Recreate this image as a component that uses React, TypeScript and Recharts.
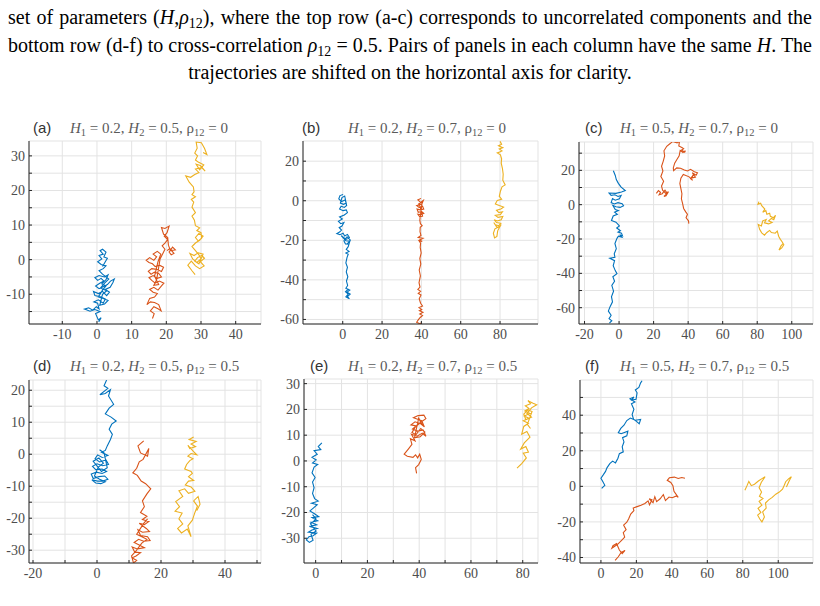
import React from 'react';
import { CartesianGrid, Line, LineChart, XAxis, YAxis } from 'recharts';

// trajectory samples, [x, y]
const A_BLUE = [[0.5,-18],[1.2,-16.8],[0.4,-17.4],[-0.4,-15.6],[0.9,-15],[-0.6,-14.4],[-2,-14.9],[-3.6,-14.3],[-2.4,-13.9],[-1.2,-14.6],[-0.2,-13.6],[0.6,-14.2],[0.2,-12.6],[-0.9,-12.2],[0.4,-11.6],[1.8,-12.6],[2.4,-11.4],[1.2,-10.8],[-0.6,-10.4],[-1,-9.2],[0.4,-9.8],[1.6,-9.2],[2.8,-10.4],[3.6,-9.4],[2.4,-8.6],[3.8,-8],[4.6,-6.6],[5,-5.6],[3.9,-6.2],[3,-7.2],[1.8,-7.8],[0.6,-8.4],[-0.4,-7.6],[0.8,-6.8],[2,-6.2],[1.2,-5.4],[0.2,-6],[-0.6,-5.2],[0.6,-4.6],[2.2,-5],[3.2,-4.4],[2.6,-5.8],[1.4,-7],[2.6,-7.6],[1.6,-8.8],[0.4,-10.8],[1.8,-11.2],[3.2,-11.8],[2.2,-12.8],[0.8,-13.2],[1.6,-10],[2.8,-9],[1,-8.2],[2.2,-6.8],[3.4,-5.6],[1.6,-4.2],[0.6,-3.2],[1.8,-2.6],[2.6,-1.8],[1.2,-1.4],[0.2,-0.6],[1.4,0.2],[0.6,1.2],[1.8,1.6],[0.9,2.6],[1.6,3],[2.6,2.2],[2,0.8],[3,0.4],[2.4,-0.6],[1.6,-2]];
const A_ORANGE = [[16,-17],[16.5,-15.6],[15.4,-14.8],[16.4,-13.6],[17.6,-14.2],[18.5,-14.8],[17.8,-13],[16.6,-12.4],[15.4,-12.2],[14.4,-13],[15.2,-11.2],[16.6,-10.8],[17.4,-9.8],[16.2,-9.4],[15.2,-8.6],[16.4,-8],[17.6,-8.8],[18.6,-7.6],[19.3,-6.8],[18,-6.2],[16.8,-6.8],[15.8,-6],[15,-5.2],[16.2,-4.6],[17.4,-5.4],[18.6,-5],[17.8,-4],[16.6,-3.6],[15.6,-4.2],[14.8,-3.4],[15.8,-2.6],[17.2,-2.8],[18.6,-3.4],[19.2,-2.2],[18,-1.6],[16.8,-2],[16,-1.2],[15,-0.8],[14.2,-0.2],[15.2,0.6],[16.4,-0.2],[17.2,0.8],[16.2,1.6],[17.4,2.4],[18.4,1.6],[17.6,-0.6],[16.6,-4.8],[17.8,-7.2],[16.4,-7.4],[17.2,-5.8],[18.2,0.2],[19,1.8],[19.6,3],[18.8,4],[19.6,4.8],[20.4,5.8],[19.4,6.8],[20.2,7.8],[20.8,9.7],[19.6,9],[18.6,9.3],[19.2,7.4],[20.4,6.4],[20.6,4.2],[21.2,2.6],[22.6,2.8],[21.8,3.6],[20.8,2.2],[21.4,1.4],[22.2,1.8],[21,3.2],[20.2,2.6]];
const A_YELLOW = [[28.3,-4.3],[27.4,-3.2],[26.2,-1.6],[27.2,-0.4],[28.4,-1.8],[29.6,-2.6],[30.9,-1.8],[29.8,-0.6],[31,0.4],[30.2,1.2],[29,0.6],[28.2,-0.4],[29.4,-1.2],[30.6,1.6],[29.2,2],[28,1.2],[26.8,1.8],[27.6,0.2],[28.8,-0.8],[30,0.2],[29.4,1.4],[28.4,2.6],[27.4,3.8],[28.4,4.8],[29.6,5.6],[30.6,6.8],[29.4,7.6],[28.4,6.4],[29.2,5.4],[30.2,6.2],[30,7.8],[28.8,8.4],[29.6,9.2],[28.4,9.8],[28.1,11.4],[27.4,12.6],[28.4,13.6],[27.4,15.2],[27.9,16.6],[27.2,17.4],[28.4,18.2],[27.4,18.8],[28,19.6],[27.8,21],[26.6,22.4],[25.6,24.2],[27,23.8],[28.2,24.6],[29.4,25.2],[28.4,26.2],[30.2,26.6],[31.2,25.6],[29.8,27.2],[28.6,27.6],[29.6,26],[30.8,27.4],[29.2,28.2],[28.4,28.8],[29,30],[28.2,30.8],[28.9,32.2],[28.6,34],[30.1,33.8],[31,32.2],[31.7,30.4],[30.6,31]];

const B_BLUE = [[0.2,3.2],[-1.4,2.6],[-2,1],[-0.6,-0.4],[1.2,0.4],[1.8,-1.2],[0.4,-1.8],[-1.2,-1.2],[-0.4,1.6],[1,2.4],[2,-2.4],[0.8,-3.4],[-0.8,-2.8],[-1.6,-4.2],[0.2,-5],[1.8,-4.6],[2.4,-6],[0.8,-7.2],[-1.6,-8.2],[-0.2,-9.2],[-2.2,-10.4],[-1,-11.6],[0.6,-11],[-0.4,-12.8],[-1.8,-13.6],[-0.6,-14.8],[-1.6,-15.8],[-3,-16.6],[-1.4,-17.2],[0.2,-16.4],[1,-17.8],[2.4,-17],[3.4,-18.6],[2,-19.4],[0.8,-18.8],[-0.8,-17.6],[1.6,-20.2],[3.6,-20.4],[2.4,-21.6],[3.4,-22],[1.4,-21.8],[0.6,-20.2],[2.2,-18.2],[3.8,-19.8],[2.8,-23.2],[1.8,-24.6],[3.2,-25.6],[1.6,-26.4],[2.8,-27],[2.2,-28.6],[1.6,-31.4],[2.4,-33.6],[1.8,-36],[2.6,-38.4],[1.9,-40.6],[2.5,-42.8],[1.6,-44.2],[3.6,-45.2],[2.2,-46.2],[3.8,-47.2],[2.4,-48.4],[3.4,-49.6],[1.6,-48.6],[2.8,-47.2],[1.4,-46],[3,-44.6]];
const B_ORANGE = [[39.8,1.2],[38.2,0.4],[39.6,-0.8],[41,0.2],[40.2,-1.8],[37.6,-2.4],[38.8,-3.4],[40.6,-2.8],[41.2,-4.2],[39.4,-4.6],[37.8,-4.2],[38.4,-5.8],[40,-5.4],[41.2,-6.4],[39.6,-7],[38.2,-6.8],[39.2,-8.2],[40.6,-7.8],[39.4,-3.2],[38.6,-1.6],[40.4,-0.6],[39.2,-9.8],[39.5,-11.6],[40.4,-12.6],[39.4,-13.4],[39.3,-15.6],[39.8,-17.6],[38.4,-18.6],[40.8,-19],[39.2,-19.8],[40.4,-20.6],[38.8,-20.2],[39.6,-21.4],[39.4,-23.6],[39.9,-26.4],[39.2,-29.2],[39.7,-32],[38.9,-35],[39.5,-38],[38.8,-41.4],[39.3,-43.6],[38.2,-44.8],[39.6,-45.8],[38.4,-46.8],[39.8,-47.6],[38.9,-49.6],[39.6,-51.8],[40.6,-53.2],[38.8,-54],[40.2,-55],[39,-55.6],[40.8,-56.4],[39.2,-57.2],[40.6,-58],[39.4,-59],[38.4,-60.2],[37.6,-61.4],[39.2,-62.2],[40.2,-61.6]];
const B_YELLOW = [[80,30],[80.8,28.6],[79.2,27.8],[81.4,26.8],[79.6,26.2],[81,25.2],[79.8,24.6],[78.6,24.2],[80.2,23.2],[80.8,21.2],[80.6,19],[81.2,16.4],[81.6,13.4],[81.4,10.4],[82.6,8],[81,7],[80.2,4.8],[79.6,2.2],[80.8,0.8],[78.6,0.2],[77.6,-1.6],[79.6,-2.4],[81.8,-3.2],[80.4,-4.2],[78.2,-4.8],[79.4,-6],[81.2,-5.6],[80.2,-7],[77.6,-7.4],[79,-8.4],[81.4,-8],[80.6,-9.6],[78.6,-10.2],[77,-9.6],[78.2,-11],[80.4,-11.4],[79.4,-12.6],[77.6,-12.2],[76.8,-11],[78.4,-13.4],[79.8,-13],[77.4,-14.2],[76.6,-16.4],[77.2,-18.8],[78.4,-18],[78.8,-15.2],[79.6,-13.6],[80.6,-12]];

const C_BLUE = [[-3.3,19.8],[-2.2,17],[-1.6,14.6],[-0.4,12.4],[1.2,10.2],[3.6,8.2],[1.4,7.4],[-1.8,6.6],[-5.8,6.8],[-4.6,5.4],[-2.4,5.8],[-0.6,4.8],[1.2,5.4],[0.2,3.4],[-2.2,2.6],[-3.8,3.6],[-4.6,1.2],[-2.8,0.4],[-0.6,1.2],[1.8,0.6],[2.6,-0.6],[0.6,-1.6],[-1.8,-1.2],[-3.6,-0.4],[-2.2,-2.8],[-0.4,-3.4],[-2.6,-4.4],[-1,-5.6],[-3.4,-6.6],[-4.4,-9.2],[-1.8,-10.2],[0.2,-12.4],[-1.4,-13.6],[0.8,-15.2],[-0.6,-16],[1.4,-16.6],[2,-18.2],[0.4,-17.6],[1.6,-19],[-0.4,-18.4],[-1.2,-19.6],[-2.4,-22.6],[-1.6,-25.6],[-2.8,-28.6],[-2.4,-30.6],[-5.4,-31.2],[-2.6,-32.6],[-3.4,-35.6],[-2.2,-38.4],[-1.2,-40.2],[-3.6,-42],[-2.6,-44.6],[-4.2,-47],[-3.2,-50.4],[-4.4,-53.6],[-3.8,-56.6],[-5.2,-59.4],[-6.2,-62],[-4.6,-64.4],[-5.8,-66.4],[-4.2,-67.6],[-5.6,-69]];
const C_ORANGE = [[21.6,6.6],[22.8,8.2],[24,7.2],[23.2,5.8],[25,6.4],[26.6,8.4],[27.6,7],[28.6,7.6],[27.2,5.2],[26,4.8],[27.4,6.2],[25.2,8.4],[24.6,10.8],[25.8,13.6],[24.2,16.4],[25.4,19.6],[24.6,22.4],[25.6,25.4],[26.4,28.4],[26,31.4],[27.6,34],[29.6,35.6],[31,36.8],[33.6,36],[35,36.9],[34.6,34.2],[36.6,33.2],[37.4,32.6],[36.2,31.8],[38,30.6],[38.4,31.4],[37,30.4],[35.4,31.6],[34.8,28.4],[33.4,26.2],[32.2,24.2],[31.4,21.4],[31.6,19.8],[33.4,21.4],[35.6,21.2],[37.8,20.2],[39.6,19.6],[41.4,20.6],[43.6,19.2],[45.4,18.6],[44.6,17.2],[42.4,18.6],[44.2,16],[42.2,15.6],[43,17.4],[41.4,15.2],[42.6,14.2],[40.6,16.2],[37.2,17.6],[35.8,15.4],[35.2,12.4],[35.8,9.4],[36.4,6.4],[36.1,3.4],[36.8,0.6],[37.4,-2.2],[38.6,-4.2],[39.6,-5.6],[38.8,-7.6],[40.2,-9.4],[40.4,-11]];
const C_YELLOW = [[81,1.8],[80.4,0.2],[82,0.8],[82.6,-0.6],[84.4,-2.6],[83.2,-4.4],[85,-3.4],[85.6,-5.6],[87.2,-5],[87.6,-6.8],[89.4,-7.6],[90.6,-6.2],[89.6,-8.8],[88.2,-8],[86.6,-9.4],[88.6,-10.4],[86.6,-11.2],[84.2,-10.6],[85.2,-8.6],[83.2,-9.4],[82.4,-12.4],[80.6,-11.6],[81.4,-14.4],[82.6,-16.4],[84.2,-17.8],[85.6,-16.2],[87.2,-15],[88.2,-16.2],[90.4,-16.6],[91.6,-15.4],[92.4,-18.4],[93.4,-20.2],[94.4,-21.6],[95.4,-23.4],[94.2,-25.2],[92.6,-26.4],[93.8,-24],[95.2,-22.4]];

const D_BLUE = [[3,23.2],[2.2,21.4],[3.4,20.6],[0.9,18.6],[2.6,19],[4.2,20.2],[3.6,18.2],[5.2,15.6],[3.8,14.4],[2.6,12.6],[4.4,11.6],[6,10.4],[4.6,9.4],[3.8,7.8],[4.8,6.2],[4.2,4.6],[3.2,2.6],[2.6,1.2],[1.4,0.6],[3.4,-0.4],[1.6,-1],[0.2,-0.2],[-0.6,-1.4],[0.8,-2.4],[2.8,-1.8],[3.6,-3.2],[1.8,-3.6],[0,-3],[-1.4,-3.8],[-0.4,-4.8],[1.6,-4.6],[3,-5.4],[1.6,-6],[-0.2,-5.6],[-1.8,-6.2],[-1.2,-7.6],[0.6,-7],[2.4,-6.8],[3.4,-7.8],[1.8,-8.4],[0.2,-8.4],[-1.6,-8],[-0.4,-9],[1.2,-9.2],[2.6,-8.6],[0.8,-7.8],[-0.8,-6.8],[0.4,-4],[2,-2.8],[0.6,-1.2],[-1.2,-2.2],[-0.2,-3.4],[1.4,-5.4],[3.2,-4.2],[2.2,0.4],[0.8,1.4]];
const D_ORANGE = [[14.6,4.2],[12.8,2.6],[13.6,0.4],[15.8,-0.6],[16.2,1.8],[14.4,-1.6],[13.2,-2.4],[12.4,-4.4],[11.2,-5.8],[12.6,-6.6],[13.8,-8.4],[15.2,-9.2],[16.8,-10.8],[15.6,-12.4],[14.2,-14.6],[14.8,-16.4],[13.6,-18.2],[15.6,-19.4],[14.2,-20.4],[16.2,-21],[14.8,-22],[13.2,-21.6],[15.4,-23.2],[16.4,-24.2],[14.2,-24.4],[12.8,-23.6],[13.6,-25.4],[15.8,-25.8],[16.6,-27],[14.6,-27.2],[13,-26.6],[11.6,-27.6],[13.2,-28.4],[14.8,-29.2],[12.6,-29.6],[11,-29],[11.8,-30.6],[13.6,-30.8],[12.2,-31.8],[11,-32.4],[12.4,-33.2],[11.4,-34],[10.8,-31.8],[12.2,-30.2],[14,-27.8],[15.6,-26.6],[14,-25.8],[12.4,-25],[14.6,-21.6],[15.8,-20.2]];
const D_YELLOW = [[30.2,5.4],[28.8,4.6],[31,4],[29.4,3.2],[30.8,2.4],[29,1.8],[28.4,2.8],[30.2,0.8],[31.2,-0.2],[29.4,0.2],[28.4,-0.6],[30,-1.4],[29,-2],[28,-3.2],[27.4,-4.6],[29.4,-5.4],[29.8,-6],[28.6,-7],[30.2,-8.2],[28.6,-8.4],[27.6,-9.6],[29.4,-10.2],[30.6,-11.6],[28.6,-12.2],[27.4,-10.8],[25.6,-11.4],[26.8,-13.2],[24.6,-14.8],[25.8,-16.4],[24.4,-17.8],[26.6,-18.4],[25.6,-20.2],[26.8,-21.8],[25.2,-23.2],[26.4,-24.6],[28.2,-23.4],[29.4,-25.8],[28.4,-22.4],[29.8,-20.6],[30.6,-18.2],[31.4,-16.2],[30.2,-14.6],[31.6,-13.2],[32.2,-15.6],[31.2,-17.6]];

const E_BLUE = [[2.4,7],[1,5.6],[2,4.4],[-0.6,4],[0.6,2.6],[-1.4,1.4],[0.2,0.4],[-1.2,-0.8],[0.8,-1.4],[-0.6,-2.4],[-1.4,-4.6],[-0.2,-6.4],[-1.2,-8.2],[-0.6,-10.4],[-1.2,-12.6],[-0.4,-14.6],[1,-15.6],[-1.6,-16.4],[0.6,-17],[-0.8,-18.2],[-2.2,-19.4],[-0.6,-20.4],[1.2,-21.6],[-1.4,-22],[0.8,-23.2],[-1.8,-23.8],[0.4,-24.8],[-2.4,-25.4],[0.6,-26.2],[-1.4,-26.8],[-2.8,-27.6],[0.4,-28],[-1,-29],[-2.6,-29.4],[-3.6,-30.6],[-2.4,-31.6],[-1,-30.8],[-1.8,-28.4],[0.2,-27.2],[-2,-24.4],[0.2,-22.6],[-1.2,-20.8]];
const E_ORANGE = [[39,-4.8],[38.6,-2.6],[39.8,-1.4],[40.8,0.6],[40.2,2.6],[39.4,1.2],[38.6,2.4],[37.6,1.4],[35.4,1.8],[34.2,2.6],[35.8,4.6],[37.2,6.4],[36.6,8.6],[38.4,7.8],[37,10.4],[39.2,9.6],[41.2,10.8],[42.6,9.6],[41.6,12],[39.4,11.6],[37.4,12.4],[38.8,13.6],[36.8,14],[38.4,15.2],[40.6,14.4],[42,13.2],[41,15.6],[39.4,16.2],[37.8,16.8],[39.6,17.6],[41.8,17.8],[42.6,16.4],[40.6,15],[38.4,13],[37.2,11],[38.8,10.2],[40.6,12.6],[42.2,11.2],[40.4,9.4],[38.2,9],[39.8,16.6],[41.2,14]];
const E_YELLOW = [[77.8,-2.8],[79.6,-1],[81.4,1.2],[80.2,3],[82.2,3.4],[81.2,5.6],[79.2,4.6],[80.6,7],[82.8,9.2],[81.6,11.4],[79.6,10.4],[80.4,13.4],[82.2,14.6],[80.2,15.6],[82.4,16.6],[80.6,17.4],[82.8,18.4],[80.8,19.4],[82.4,20.4],[81,21.4],[83,22.2],[82,23.4],[84,22.4],[85.4,21.8],[83.4,20.6],[81.6,18.4],[83.4,17],[81.2,16],[80.4,18.2],[82,19.8],[83.6,19.2],[81.8,14.2],[83,12.6]];

const F_BLUE = [[0.4,-1.2],[2.2,0.6],[1.2,2.4],[0,4.6],[1.4,6.6],[2.6,8.4],[3.4,10.4],[5,12.8],[6.6,14.2],[8.2,13.2],[9.6,15.8],[10.4,18.4],[12.6,19.4],[12,22.2],[13,25],[12.2,27.4],[14.6,28.4],[15.2,31],[11.4,29.6],[9.8,30.2],[11.2,32.6],[13,34.4],[14.6,37],[16.6,38.4],[19.4,37.2],[22.4,37.6],[21.6,35.2],[20.2,36.4],[18.4,37.8],[17.6,40.4],[18.6,43.4],[17.2,46.4],[19.2,47.4],[16.4,49.2],[18.6,50.2],[17.4,48.6],[19.8,49],[20.4,52.6],[19.4,54.2],[21.4,55.6],[22.4,58.2],[23.2,59.4]];
const F_ORANGE = [[8,-41.6],[9.8,-39.6],[11.4,-37.2],[13.6,-36],[12,-37.8],[10.4,-35.8],[8.8,-32.2],[6.8,-33.4],[6.2,-34.8],[9.4,-32.6],[11.8,-30.2],[13.4,-28.6],[12.6,-26],[14.2,-24.4],[12.8,-21.8],[14.6,-20.2],[15.6,-18.4],[16.8,-15.6],[18.6,-13.6],[18.2,-12.2],[20.4,-11.4],[22.6,-10.6],[24.8,-9.6],[26.6,-8.2],[27.4,-10.4],[28.8,-7.6],[27.2,-7],[29.4,-9.2],[30.4,-5.8],[31.4,-8.6],[33.4,-7],[35.2,-4.6],[36.4,-8],[38.4,-6],[40.2,-6.4],[42.6,-5.4],[43.6,-6.2],[41.2,-2.8],[40.6,0.4],[39.4,2.2],[37.4,3.4],[38.6,4.8],[41.4,5.2],[43.6,4.4],[45.6,5],[47.4,4.6]];
const F_YELLOW = [[81.2,-2.2],[82.4,0.4],[83.4,2.8],[84.8,0.4],[86.6,1.2],[88.8,3],[90.6,4.2],[92.6,5.4],[90.4,2.2],[89.2,-0.8],[90.6,-3.2],[89.4,-5.6],[91.4,-6.8],[89.2,-8.4],[90.8,-10.6],[88.6,-12.4],[90.2,-14.6],[88.4,-16.2],[89.6,-18.4],[90.8,-20],[92.2,-17.2],[91.2,-14.4],[93.2,-12.2],[92.8,-9.4],[94.6,-7.6],[96.6,-6.2],[98.6,-4.4],[100.6,-3.2],[102.4,-1.6],[103.4,0.6],[104.2,2.6],[105.8,4.2],[107.4,5.4],[106.2,3.2],[104.6,-0.4]];

const SERIES_COLORS = ['#0072BD', '#D95319', '#EDB120'];
const FRAME = '#262626';
const GRID = '#e3e3e3';
const TICK_TEXT = '#4d4d4d';

const range = (a: number, b: number, step: number) => {
  const out: number[] = [];
  for (let v = a; v <= b; v += step) out.push(v);
  return out;
};

const PANELS = [
  { tag: '(a)', h1: '0.2', h2: '0.5', rho: '0', box: [29, 141, 232, 183], xDom: [-19.6, 47.3], yDom: [-18.6, 34.3],
    xTicks: range(-10, 40, 10), xLab: 10, yTicks: range(-15, 30, 5), yLab: 10, tagX: 33, fX: 70, base: 132.5,
    series: [A_BLUE, A_ORANGE, A_YELLOW] },
  { tag: '(b)', h1: '0.2', h2: '0.7', rho: '0', box: [303, 141, 235, 183], xDom: [-20.2, 99.3], yDom: [-62.3, 30.2],
    xTicks: range(0, 80, 20), xLab: 20, yTicks: range(-60, 20, 10), yLab: 20, tagX: 302, fX: 348, base: 132.5,
    series: [B_BLUE, B_ORANGE, B_YELLOW] },
  { tag: '(c)', h1: '0.5', h2: '0.7', rho: '0', box: [579, 142, 234, 182], xDom: [-23.2, 112.3], yDom: [-69.5, 36.5],
    xTicks: range(-20, 100, 20), xLab: 20, yTicks: range(-60, 30, 10), yLab: 20, tagX: 585, fX: 620, base: 132.5,
    series: [C_BLUE, C_ORANGE, C_YELLOW] },
  { tag: '(d)', h1: '0.2', h2: '0.5', rho: '0.5', box: [29, 380, 232, 183], xDom: [-21.25, 51.25], yDom: [-34, 23.2],
    xTicks: range(-20, 50, 10), xLab: 20, yTicks: range(-30, 20, 5), yLab: 10, tagX: 33, fX: 70, base: 371,
    series: [D_BLUE, D_ORANGE, D_YELLOW] },
  { tag: '(e)', h1: '0.2', h2: '0.7', rho: '0.5', box: [304, 379, 234, 184], xDom: [-4.5, 85.9], yDom: [-39.6, 31.8],
    xTicks: range(0, 80, 10), xLab: 20, yTicks: range(-30, 30, 10), yLab: 10, tagX: 310, fX: 348, base: 371,
    series: [E_BLUE, E_ORANGE, E_YELLOW] },
  { tag: '(f)', h1: '0.5', h2: '0.7', rho: '0.5', box: [580, 380, 233, 183], xDom: [-11.8, 119.6], yDom: [-43.1, 59.8],
    xTicks: range(0, 100, 20), xLab: 20, yTicks: range(-40, 50, 10), yLab: 20, tagX: 585, fX: 620, base: 371,
    series: [F_BLUE, F_ORANGE, F_YELLOW] },
];

const toPoints = (arr: number[][]) => arr.map(([x, y]) => ({ x, y }));

const ML = 44;
const MB = 26;
const MT = 4;
const MR = 4;

const shows = (v: number, step: number) => Math.abs(v % step) < 1e-9;

// MATLAB-style tick labels in Times
const XTick = (step: number) => (props: any) => {
  const { x, y, payload } = props;
  if (!shows(payload.value, step)) return <g />;
  return (
    <text x={x} y={y + 15} textAnchor="middle" fontFamily="Liberation Serif" fontSize={14} fill={TICK_TEXT}>
      {payload.value}
    </text>
  );
};
const YTick = (step: number) => (props: any) => {
  const { x, y, payload } = props;
  if (!shows(payload.value, step)) return <g />;
  return (
    <text x={x - 4} y={y + 5} textAnchor="end" fontFamily="Liberation Serif" fontSize={14} fill={TICK_TEXT}>
      {payload.value}
    </text>
  );
};

function Panel({ p }: { p: (typeof PANELS)[number] }) {
  const [bx, by, bw, bh] = p.box;
  return (
    <div style={{ position: 'absolute', left: bx - ML, top: by - MT }}>
      <LineChart width={ML + bw + MR} height={MT + bh + MB} margin={{ top: MT, right: MR, bottom: 0, left: 0 }}>
        <CartesianGrid stroke={GRID} strokeWidth={1} />
        <XAxis type="number" dataKey="x" domain={p.xDom} ticks={p.xTicks} allowDataOverflow interval={0}
          height={MB} tickSize={-3} tickMargin={3} tick={XTick(p.xLab)}
          axisLine={{ stroke: FRAME }} tickLine={{ stroke: FRAME }} />
        <XAxis xAxisId="top" orientation="top" type="number" domain={p.xDom} ticks={p.xTicks} allowDataOverflow
          interval={0} height={0} tickSize={-3} tickFormatter={() => ''} axisLine={{ stroke: FRAME }} tickLine={{ stroke: FRAME }} />
        <YAxis type="number" domain={p.yDom} ticks={p.yTicks} allowDataOverflow interval={0} width={ML}
          tickSize={-3} tickMargin={3} tick={YTick(p.yLab)}
          axisLine={{ stroke: FRAME }} tickLine={{ stroke: FRAME }} />
        <YAxis yAxisId="right" orientation="right" type="number" domain={p.yDom} ticks={p.yTicks} allowDataOverflow
          interval={0} width={0} tickSize={-3} tickFormatter={() => ''} axisLine={{ stroke: FRAME }} tickLine={{ stroke: FRAME }} />
        {p.series.map((s, i) => (
          <Line key={i} data={toPoints(s)} dataKey="y" type="linear" stroke={SERIES_COLORS[i]} strokeWidth={1.1}
            dot={false} activeDot={false} isAnimationActive={false} />
        ))}
      </LineChart>
    </div>
  );
}

const subStyle: React.CSSProperties = { fontSize: 14, verticalAlign: -4, lineHeight: 0, fontStyle: 'normal' };

export default function App() {
  const captionLine: React.CSSProperties = {
    position: 'absolute', left: 8, width: 804, fontFamily: 'Liberation Serif', fontSize: 20,
    lineHeight: '28px', color: '#000', whiteSpace: 'nowrap',
  };
  return (
    <div style={{ position: 'absolute', left: 0, top: 0, width: 820, height: 606, background: '#fff', overflow: 'hidden' }}>
      <div style={{ ...captionLine, top: 3, textAlign: 'justify', textAlignLast: 'justify', whiteSpace: 'normal' }}>
        set of parameters (<i>H</i>,<i>ρ</i><span style={subStyle}>12</span>), where the top row (a-c) corresponds to uncorrelated components and the
      </div>
      <div style={{ ...captionLine, top: 30.5, textAlign: 'justify', textAlignLast: 'justify', whiteSpace: 'normal' }}>
        bottom row (d-f) to cross-correlation <i>ρ</i><span style={subStyle}>12</span> = 0.5. Pairs of panels in each column have the same <i>H</i>. The
      </div>
      <div style={{ ...captionLine, top: 57.5, textAlign: 'center' }}>
        trajectories are shifted on the horizontal axis for clarity.
      </div>

      {PANELS.map((p) => (
        <Panel key={p.tag} p={p} />
      ))}

      <svg width={820} height={606} style={{ position: 'absolute', left: 0, top: 0, pointerEvents: 'none' }}>
        {PANELS.map((p) => (
          <g key={p.tag}>
            <text x={p.tagX} y={p.base} fontFamily="Liberation Sans" fontSize={15} fill="#333">{p.tag}</text>
            <text x={p.fX} y={p.base} fontFamily="Liberation Serif" fontSize={15} fill="#5a5a5a">
              <tspan fontStyle="italic">H</tspan>
              <tspan fontSize={10.5} dy={3}>1</tspan>
              <tspan dy={-3}>{` = ${p.h1}, `}</tspan>
              <tspan fontStyle="italic">H</tspan>
              <tspan fontSize={10.5} dy={3}>2</tspan>
              <tspan dy={-3}>{` = ${p.h2}, ρ`}</tspan>
              <tspan fontSize={10.5} dy={3}>12</tspan>
              <tspan dy={-3}>{` = ${p.rho}`}</tspan>
            </text>
          </g>
        ))}
      </svg>
    </div>
  );
}
